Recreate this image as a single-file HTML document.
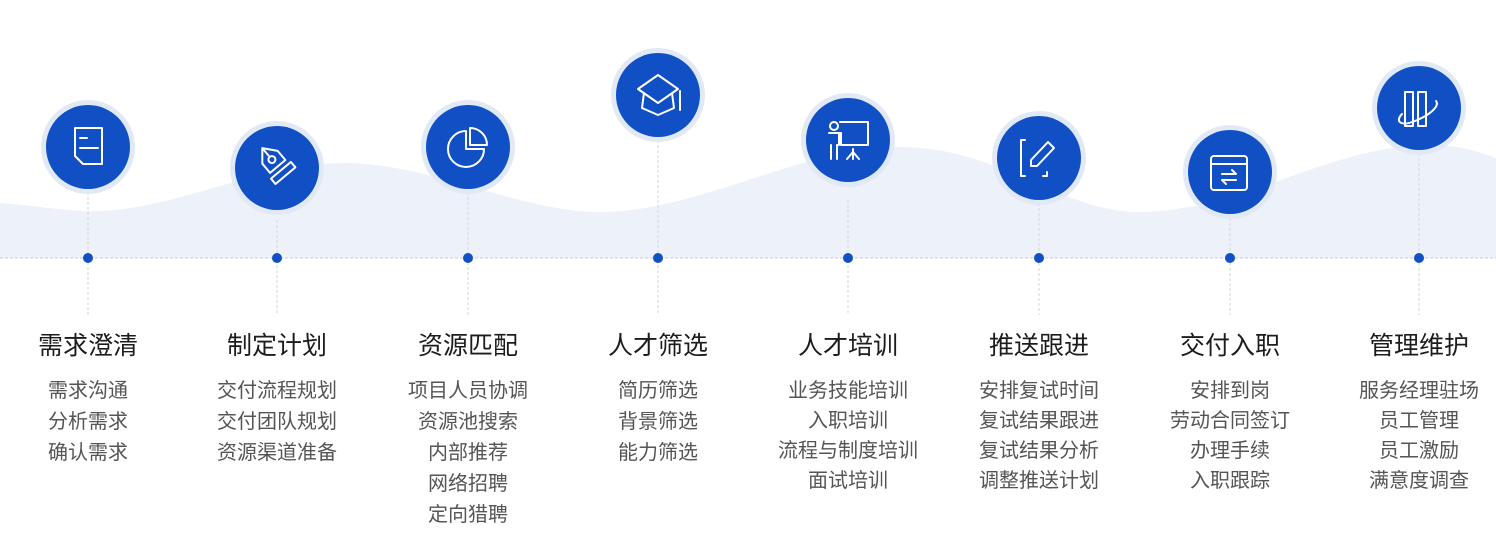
<!DOCTYPE html>
<html><head><meta charset="utf-8"><style>
html,body{margin:0;padding:0;background:#fff;}
svg{display:block}
.t{font-family:"Liberation Sans","Noto Sans CJK SC",sans-serif;font-size:25px;fill:#1c1c1c;text-anchor:middle}
.s{font-family:"Liberation Sans","Noto Sans CJK SC",sans-serif;font-size:20px;fill:#555;text-anchor:middle}
.ic{fill:none;stroke:#fff;stroke-width:2;stroke-linecap:round;stroke-linejoin:round}
</style></head><body>
<svg width="1496" height="558" viewBox="0 0 1496 558" xmlns="http://www.w3.org/2000/svg">
<path d="M0,203 C40,206 70,212 100,211 C180,208 260,163 345,163 C430,163 520,212 600,212 C700,212 800,147 900,147 C1000,147 1060,212 1140,212 C1240,212 1330,145 1430,145 C1460,145 1480,152 1496,158 L1496,258 L0,258 Z" fill="#edf1f9"/>
<line x1="0" y1="258" x2="1496" y2="258" stroke="#c8cbd6" stroke-width="1" stroke-dasharray="3,2"/>
<g stroke="#d3d6dd" stroke-width="1" stroke-dasharray="3,2">
<line x1="88" y1="192" x2="88" y2="315"/>
<line x1="277" y1="220" x2="277" y2="315"/>
<line x1="468" y1="192" x2="468" y2="315"/>
<line x1="658" y1="140" x2="658" y2="315"/>
<line x1="848" y1="200" x2="848" y2="315"/>
<line x1="1039" y1="203" x2="1039" y2="315"/>
<line x1="1230" y1="218" x2="1230" y2="315"/>
<line x1="1419" y1="153" x2="1419" y2="315"/>
</g>
<g fill="#1050c4">
<circle cx="88" cy="258" r="5"/><circle cx="277" cy="258" r="5"/><circle cx="468" cy="258" r="5"/><circle cx="658" cy="258" r="5"/>
<circle cx="848" cy="258" r="5"/><circle cx="1039" cy="258" r="5"/><circle cx="1230" cy="258" r="5"/><circle cx="1419" cy="258" r="5"/>
</g>
<g>
<circle cx="88" cy="147" r="47" fill="#e2e9f6"/><circle cx="88" cy="147" r="42" fill="#1050c4"/>
<circle cx="277" cy="168" r="47" fill="#e2e9f6"/><circle cx="277" cy="168" r="42" fill="#1050c4"/>
<circle cx="468" cy="147" r="47" fill="#e2e9f6"/><circle cx="468" cy="147" r="42" fill="#1050c4"/>
<circle cx="658" cy="95" r="47" fill="#e2e9f6"/><circle cx="658" cy="95" r="42" fill="#1050c4"/>
<circle cx="848" cy="140" r="47" fill="#e2e9f6"/><circle cx="848" cy="140" r="42" fill="#1050c4"/>
<circle cx="1039" cy="158" r="47" fill="#e2e9f6"/><circle cx="1039" cy="158" r="42" fill="#1050c4"/>
<circle cx="1230" cy="172" r="47" fill="#e2e9f6"/><circle cx="1230" cy="172" r="42" fill="#1050c4"/>
<circle cx="1419" cy="108" r="47" fill="#e2e9f6"/><circle cx="1419" cy="108" r="42" fill="#1050c4"/>
</g>
<g class="ic">
<path d="M75,128 h27 v36 h-19 l-8,-8 z M80,138 h7 M80,148 h18"/>
<g transform="translate(279,168) rotate(-40)"><path d="M-10,-2 L-10,-14 L0,-26 L10,-14 L10,-2 Z M-13,3 h26 v7 h-26 z M0,-26 v10"/><circle cx="0" cy="-11" r="3.5"/></g>
<path d="M466,131 A18,18 0 1,0 484,149 L466,149 Z M470,128 v17 h17 A17,17 0 0,0 470,128 Z"/>
<path d="M658,75 L678,89 L658,103 L638,89 Z M644,93 L642,108 L658,115 L674,108 L672,93 M680,91 v19"/>
<circle cx="834" cy="126" r="4"/><path d="M829,133 h10 v12 h-2 v14 M831,145 v14 M839,133 h2 v12 h27 v-23 h-28 M853,149 v10 M853,152 l-6,7 M853,152 l6,7"/>
<path d="M1025,140 h-4 v36 h4 M1047,172 v4 h-4 M1031,166 v-6 l17,-18 6,6 -17,18 z"/>
<rect x="1211" y="156" width="36" height="34" rx="3"/><path d="M1211,164 h36 M1222,174 h14 l-4,-4 M1236,180 h-14 l4,4"/>
<path d="M1405,92 h8 v34 h-8 z M1418,92 h8 v34 h-8 z M1402,114 C1395,121 1400,127 1415,121 C1430,115 1440,106 1436,101"/>
</g>
<g class="t">
<text x="88" y="354">需求澄清</text><text x="277" y="354">制定计划</text><text x="468" y="354">资源匹配</text><text x="658" y="354">人才筛选</text>
<text x="848" y="354">人才培训</text><text x="1039" y="354">推送跟进</text><text x="1230" y="354">交付入职</text><text x="1419" y="354">管理维护</text>
</g>
<g class="s">
<text x="88" y="397">需求沟通</text><text x="88" y="428">分析需求</text><text x="88" y="459">确认需求</text>
<text x="277" y="397">交付流程规划</text><text x="277" y="428">交付团队规划</text><text x="277" y="459">资源渠道准备</text>
<text x="468" y="397">项目人员协调</text><text x="468" y="428">资源池搜索</text><text x="468" y="459">内部推荐</text><text x="468" y="490">网络招聘</text><text x="468" y="521">定向猎聘</text>
<text x="658" y="397">简历筛选</text><text x="658" y="428">背景筛选</text><text x="658" y="459">能力筛选</text>
<text x="848" y="397">业务技能培训</text><text x="848" y="427">入职培训</text><text x="848" y="457">流程与制度培训</text><text x="848" y="487">面试培训</text>
<text x="1039" y="397">安排复试时间</text><text x="1039" y="427">复试结果跟进</text><text x="1039" y="457">复试结果分析</text><text x="1039" y="487">调整推送计划</text>
<text x="1230" y="397">安排到岗</text><text x="1230" y="427">劳动合同签订</text><text x="1230" y="457">办理手续</text><text x="1230" y="487">入职跟踪</text>
<text x="1419" y="397">服务经理驻场</text><text x="1419" y="427">员工管理</text><text x="1419" y="457">员工激励</text><text x="1419" y="487">满意度调查</text>
</g>
</svg>
</body></html>
